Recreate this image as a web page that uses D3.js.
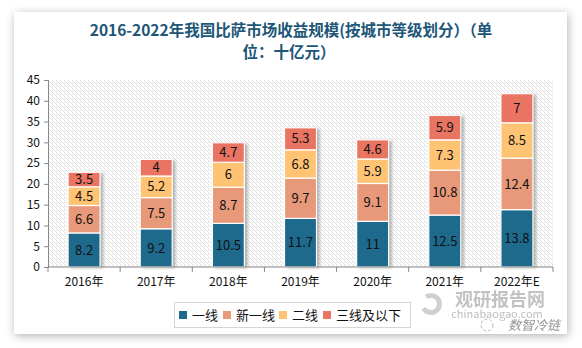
<!DOCTYPE html>
<html>
<head>
<meta charset="utf-8">
<script src="https://cdn.jsdelivr.net/npm/d3@7"></script>
<style>
  body { margin: 0; background: #fff; }
  #card {
    position: absolute; left: 14px; top: 12px; width: 553px; height: 322px;
    background: #fff; box-shadow: 1px 2px 9px rgba(0,0,0,0.3);
  }
  svg { position: absolute; left: 0; top: 0; }
</style>
</head>
<body>
<div id="card"></div>
<svg id="chart" width="582" height="348"></svg>
<script>
const years = ["2016年", "2017年", "2018年", "2019年", "2020年", "2021年", "2022年E"];
const seriesNames = ["一线", "新一线", "二线", "三线及以下"];
const tier1 = [8.2, 9.2, 10.5, 11.7, 11, 12.5, 13.8];
const newTier1 = [6.6, 7.5, 8.7, 9.7, 9.1, 10.8, 12.4];
const tier2 = [4.5, 5.2, 6, 6.8, 5.9, 7.3, 8.5];
const tier3 = [3.5, 4, 4.7, 5.3, 4.6, 5.9, 7];
const yTicks = [0, 5, 10, 15, 20, 25, 30, 35, 40, 45];
const colors = ["#1E6A8D", "#E8997A", "#FFC374", "#E97462"];

const svg = d3.select("#chart");
const font = "'Noto Sans CJK SC', 'DejaVu Sans', sans-serif";

// plot area
const plotL = 48, plotR = 553, plotT = 80, plotB = 267;

const defs = svg.append("defs");
const pat = defs.append("pattern")
  .attr("id", "hatch")
  .attr("patternUnits", "userSpaceOnUse")
  .attr("width", 4).attr("height", 4);
pat.append("rect").attr("width", 4).attr("height", 4).attr("fill", "#fff");
pat.append("path")
  .attr("d", "M-1,1 L1,3 M0,0 L4,4 M3,-1 L5,1")
  .attr("stroke", "#dcdcdc").attr("stroke-width", 0.9);

const shadow = defs.append("filter").attr("id", "shadow")
  .attr("x", "-20%").attr("y", "-20%").attr("width", "150%").attr("height", "140%");
shadow.append("feDropShadow")
  .attr("dx", 3).attr("dy", 1).attr("stdDeviation", 1.5)
  .attr("flood-color", "#000").attr("flood-opacity", 0.3);

svg.append("rect")
  .attr("x", plotL).attr("y", plotT)
  .attr("width", plotR - plotL).attr("height", plotB - plotT)
  .attr("fill", "url(#hatch)");

// Title (two lines, wrapped like the original)
const title = svg.append("text")
  .attr("text-anchor", "middle")
  .attr("fill", "#1D5677")
  .style("font-family", font)
  .style("font-weight", "bold")
  .style("font-size", "15.5px");
title.append("tspan").attr("x", 291).attr("y", 36)
  .text("2016-2022年我国比萨市场收益规模(按城市等级划分）（单");
title.append("tspan").attr("x", 289).attr("y", 58)
  .text("位：十亿元）");

const x = d3.scaleBand().domain(years).range([plotL, plotR]);
const y = d3.scaleLinear().domain([0, 45]).range([plotB, plotT]);

const stackData = years.map((yr, i) => ({
  year: yr, "一线": tier1[i], "新一线": newTier1[i], "二线": tier2[i], "三线及以下": tier3[i]
}));
const series = d3.stack().keys(seriesNames)(stackData);

const barW = 32;
const barsG = svg.append("g");

// Shadows behind whole bars
barsG.selectAll("rect.shadow")
  .data(stackData)
  .enter().append("rect")
  .attr("x", d => x(d.year) + x.bandwidth() / 2 - barW / 2)
  .attr("y", (d, i) => y(series[3][i][1]))
  .attr("width", barW)
  .attr("height", (d, i) => y(0) - y(series[3][i][1]))
  .attr("fill", "#999")
  .attr("filter", "url(#shadow)");

series.forEach((s, k) => {
  barsG.selectAll("rect.s" + k)
    .data(s)
    .enter().append("rect")
    .attr("x", d => x(d.data.year) + x.bandwidth() / 2 - barW / 2)
    .attr("y", d => y(d[1]))
    .attr("width", barW)
    .attr("height", d => y(d[0]) - y(d[1]))
    .attr("fill", colors[k])
    .attr("stroke", "#fff")
    .attr("stroke-width", 1.2);

  barsG.selectAll("text.s" + k)
    .data(s)
    .enter().append("text")
    .attr("x", d => x(d.data.year) + x.bandwidth() / 2)
    .attr("y", d => (y(d[0]) + y(d[1])) / 2)
    .attr("dy", "0.36em")
    .attr("text-anchor", "middle")
    .attr("fill", "#111")
    .style("font-family", font)
    .style("font-size", "13px")
    .text(d => d.data[seriesNames[k]]);
});

// Y axis
const yAxis = svg.append("g")
  .attr("transform", `translate(${plotL},0)`)
  .call(d3.axisLeft(y).tickValues(yTicks).tickSize(4).tickPadding(4));
yAxis.selectAll("text").style("font-family", font).style("font-size", "12px").attr("fill", "#111");
yAxis.selectAll("line,path").attr("stroke", "#888");

// X axis with dividers between categories
const xAxis = svg.append("g")
  .attr("transform", `translate(0,${plotB})`);
xAxis.append("line").attr("x1", plotL).attr("x2", plotR).attr("y1", 0).attr("y2", 0).attr("stroke", "#888");
xAxis.selectAll("line.tick")
  .data(years.concat(["end"]))
  .enter().append("line")
  .attr("x1", (d, i) => plotL + i * x.bandwidth())
  .attr("x2", (d, i) => plotL + i * x.bandwidth())
  .attr("y1", 0).attr("y2", 5)
  .attr("stroke", "#888");
xAxis.selectAll("text")
  .data(years)
  .enter().append("text")
  .attr("x", d => x(d) + x.bandwidth() / 2)
  .attr("y", 19)
  .attr("text-anchor", "middle")
  .attr("fill", "#111")
  .style("font-family", font)
  .style("font-size", "12px")
  .text(d => d);

// Legend
const legend = svg.append("g");
legend.append("rect")
  .attr("x", 174.5).attr("y", 302.5).attr("width", 236).attr("height", 25)
  .attr("fill", "#fff").attr("stroke", "#d6d6d6");
const legendX = [179, 223, 279, 323];
seriesNames.forEach((s, k) => {
  legend.append("rect")
    .attr("x", legendX[k]).attr("y", 311).attr("width", 8).attr("height", 8)
    .attr("fill", colors[k]);
  legend.append("text")
    .attr("x", legendX[k] + 13).attr("y", 315)
    .attr("dy", "0.36em")
    .attr("fill", "#111")
    .style("font-family", font)
    .style("font-size", "13px")
    .text(s);
});

// Watermarks
const wm = svg.append("g");
wm.append("path")
  .attr("d", d3.arc()({ innerRadius: 6, outerRadius: 11, startAngle: -0.6, endAngle: 4.2 }))
  .attr("transform", "translate(431,304)")
  .attr("fill", "#aaa").attr("opacity", 0.55);
wm.append("text")
  .attr("x", 500).attr("y", 306).attr("text-anchor", "middle")
  .attr("fill", "#9a9a9a").attr("opacity", 0.6)
  .style("font-family", font).style("font-weight", "bold").style("font-size", "18px")
  .text("观研报告网");
wm.append("text")
  .attr("x", 497).attr("y", 318).attr("text-anchor", "middle")
  .attr("fill", "#9a9a9a").attr("opacity", 0.65)
  .style("font-family", font).style("font-size", "11px")
  .text("chinabaogao.com");
wm.append("circle").attr("cx", 487).attr("cy", 325).attr("r", 6)
  .attr("fill", "none").attr("stroke", "#999").attr("stroke-dasharray", "3,2").attr("opacity", 0.7);
wm.append("text")
  .attr("x", 508).attr("y", 330)
  .attr("fill", "#777").attr("opacity", 0.8)
  .style("font-family", font).style("font-style", "italic").style("font-size", "13px")
  .text("数智冷链");
</script>
</body>
</html>
